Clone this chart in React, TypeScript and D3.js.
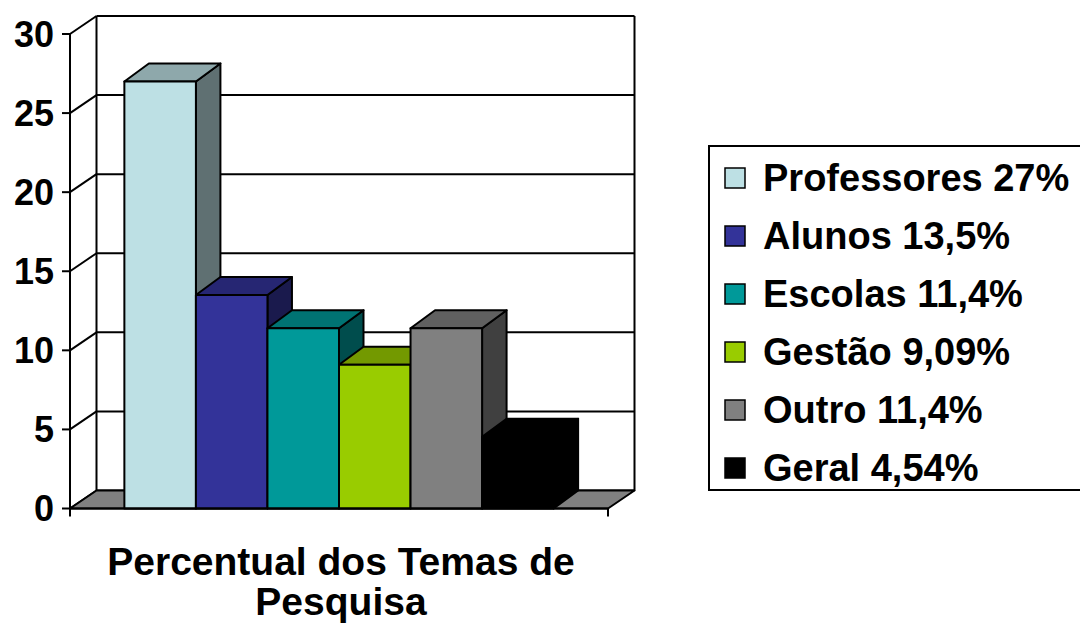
import React from 'react';
import * as d3 from 'd3';

const categories = ['Professores', 'Alunos', 'Escolas', 'Gestão', 'Outro', 'Geral'];
const values = [27, 13.5, 11.4, 9.09, 11.4, 4.54];
const legendLabels = ['Professores 27%', 'Alunos 13,5%', 'Escolas 11,4%', 'Gestão 9,09%', 'Outro 11,4%', 'Geral 4,54%'];
const colors = ['#bde0e4', '#333399', '#009999', '#99cc00', '#808080', '#000000'];
const yTicks = [0, 5, 10, 15, 20, 25, 30];
const titleLines = ['Percentual dos Temas de', 'Pesquisa'];

const W = 1080;
const H = 623;
const FONT = '"Liberation Sans", Arial, sans-serif';

// wall depth and bar depth offsets (oblique projection)
const wallDx = 26.5;
const wallDy = -18;
const barDx = 24.5;
const barDy = -18;

const shade = (c: string, k: number) => {
  const rgb = d3.rgb(c);
  return d3.rgb(rgb.r * k, rgb.g * k, rgb.b * k).formatHex();
};

const App: React.FC = () => {
  const y = d3.scaleLinear().domain([0, 30]).range([508.5, 34]);
  const x = d3.scaleBand<string>().domain(categories).range([70, 608]).paddingInner(0).paddingOuter(0.76);
  const x0 = 70;
  const x1 = 608;
  const y0 = y(0);

  const pts = (p: [number, number][]) => p.map((d) => d.join(',')).join(' ');

  return (
    <svg width={W} height={H} style={{ position: 'absolute', left: 0, top: 0, background: '#fff' }}>
      {/* back wall */}
      <g stroke="#000" strokeWidth={2} fill="none">
        {yTicks.map((t) => (
          <line key={'g' + t} x1={x0 + wallDx} x2={x1 + wallDx} y1={y(t) + wallDy} y2={y(t) + wallDy} />
        ))}
        <line x1={x0 + wallDx} x2={x0 + wallDx} y1={y(30) + wallDy} y2={y0 + wallDy} />
        <line x1={x1 + wallDx} x2={x1 + wallDx} y1={y(30) + wallDy} y2={y0 + wallDy} />
        {/* left wall diagonals */}
        {yTicks.map((t) => (
          <line key={'d' + t} x1={x0} x2={x0 + wallDx} y1={y(t)} y2={y(t) + wallDy} />
        ))}
        {/* front axis */}
        <line x1={x0} x2={x0} y1={y(30)} y2={y0 + 8} />
        {yTicks.map((t) => (
          <line key={'t' + t} x1={x0 - 8} x2={x0} y1={y(t)} y2={y(t)} />
        ))}
        <line x1={x1} x2={x1} y1={y0} y2={y0 + 8} />
      </g>

      {/* floor */}
      <polygon
        points={pts([
          [x0, y0],
          [x1, y0],
          [x1 + wallDx, y0 + wallDy],
          [x0 + wallDx, y0 + wallDy],
        ])}
        fill="#808080"
        stroke="#000"
        strokeWidth={2}
        strokeLinejoin="round"
      />

      {/* bars */}
      {categories.map((c, i) => {
        const bx = x(c) as number;
        const bw = x.bandwidth();
        const top = y(values[i]);
        const col = colors[i];
        return (
          <g key={c} stroke="#000" strokeWidth={2} strokeLinejoin="round">
            <polygon
              points={pts([
                [bx + bw, top],
                [bx + bw + barDx, top + barDy],
                [bx + bw + barDx, y0 + barDy],
                [bx + bw, y0],
              ])}
              fill={shade(col, 0.5)}
            />
            <polygon
              points={pts([
                [bx, top],
                [bx + barDx, top + barDy],
                [bx + bw + barDx, top + barDy],
                [bx + bw, top],
              ])}
              fill={shade(col, 0.75)}
            />
            <rect x={bx} y={top} width={bw} height={y0 - top} fill={col} />
          </g>
        );
      })}
      <line x1={x0} x2={x1} y1={y0} y2={y0} stroke="#000" strokeWidth={2} />

      {/* y tick labels */}
      {yTicks.map((t) => (
        <text
          key={'l' + t}
          x={54}
          y={y(t) + 12.5}
          textAnchor="end"
          fontFamily={FONT}
          fontWeight="bold"
          fontSize={36}
          fill="#000"
        >
          {t}
        </text>
      ))}

      {/* axis title */}
      {titleLines.map((line, i) => (
        <text
          key={line}
          x={341}
          y={575 + i * 40}
          textAnchor="middle"
          fontFamily={FONT}
          fontWeight="bold"
          fontSize={39}
          fill="#000"
        >
          {line}
        </text>
      ))}

      {/* legend */}
      <rect x={709} y={146} width={400} height={344} fill="#fff" stroke="#000" strokeWidth={2} />
      {legendLabels.map((lab, i) => {
        const base = 191 + i * 58;
        return (
          <g key={lab}>
            <rect x={725} y={base - 23} width={20} height={20} fill={colors[i]} stroke="#000" strokeWidth={1.5} />
            <text x={763} y={base} fontFamily={FONT} fontWeight="bold" fontSize={38} fill="#000">
              {lab}
            </text>
          </g>
        );
      })}
    </svg>
  );
};

export default App;
